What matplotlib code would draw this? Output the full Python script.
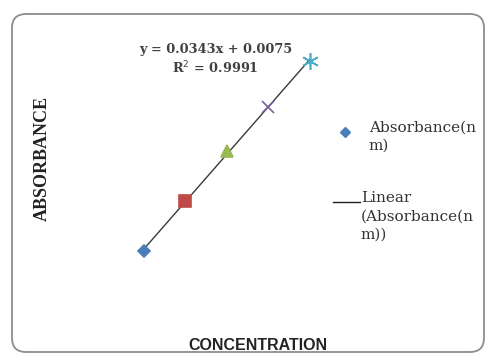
#!/usr/bin/env python

import numpy as np
import matplotlib
matplotlib.use('Agg')
import matplotlib.pyplot as plt
from matplotlib.patches import FancyBboxPatch
from matplotlib.lines import Line2D

# standard curve data (one point per standard)
concentration = [2, 4, 6, 8, 10]
absorbance = [0.073, 0.146, 0.218, 0.282, 0.348]
markers = ['D', 's', '^', 'x', (6, 2, 0)]
colors = ['#4A7EBB', '#BE4B48', '#98B954', '#7D60A0', '#4BACC6']
marker_sizes = [6, 9, 9, 9, 12]

equation_text = 'y = 0.0343x + 0.0075'
r2_text = 'R$^2$ = 0.9991'
x_title = 'CONCENTRATION'
y_title = 'ABSORBANCE'
legend_labels = ['Absorbance(n\nm)', 'Linear\n(Absorbance(n\nm))']


def main():
    fig = plt.figure(figsize=(4.87, 3.54), dpi=100)

    # rounded chart border, like excel
    box = FancyBboxPatch((0.12, 0.02), 4.72, 3.38,
                         boxstyle='round,pad=0,rounding_size=0.14',
                         transform=fig.dpi_scale_trans, facecolor='none',
                         edgecolor='#8c8c8c', linewidth=1.3, zorder=-1)
    fig.patches.append(box)

    ax = fig.add_axes([0.2105, 0.148, 0.4685, 0.781])
    ax.set_xlim(0, 11)
    ax.set_ylim(0, 0.4)
    ax.axis('off')

    # linear trendline across the data range
    k, b = np.polyfit(concentration, absorbance, 1)
    xs = np.array([min(concentration), max(concentration)])
    ax.plot(xs, k * xs + b, color='#3a3a3a', linewidth=1.0, zorder=2)

    for i in range(len(concentration)):
        ax.plot(concentration[i], absorbance[i], marker=markers[i], color=colors[i],
                markersize=marker_sizes[i], markeredgewidth=1.2, linestyle='none', zorder=3)

    fig.text(0.4435, 0.859, equation_text, ha='center', va='center', family='DejaVu Serif',
             fontsize=9.3, fontweight='bold', color='#404040')
    fig.text(0.4415, 0.808, r2_text, ha='center', va='center', family='DejaVu Serif',
             fontsize=9.3, fontweight='bold', color='#404040')

    fig.text(0.086, 0.553, y_title, rotation=90, ha='center', va='center',
             family='Liberation Serif', fontsize=13, fontweight='bold', color='#222222')
    fig.text(0.530, 0.023, x_title, ha='center', va='center',
             family='Liberation Sans', fontsize=11.5, fontweight='bold', color='#222222')

    # legend drawn by hand so the key sits on the first text line
    fig.lines.append(Line2D([0.708], [1 - 132 / 354.], marker='D', color=colors[0],
                            markersize=5, transform=fig.transFigure))
    fig.text(0.757, 1 - 121 / 354., legend_labels[0], ha='left', va='top',
             family='DejaVu Serif', fontsize=11, color='#333333', linespacing=1.3)
    fig.lines.append(Line2D([0.684, 0.739], [1 - 202 / 354.] * 2, color='#222222',
                            linewidth=1.0, transform=fig.transFigure))
    fig.text(0.741, 1 - 191 / 354., legend_labels[1], ha='left', va='top',
             family='DejaVu Serif', fontsize=11, color='#333333', linespacing=1.4)

    plt.savefig('out.png', dpi=100)
    plt.close()


if __name__ == "__main__":
    main()
